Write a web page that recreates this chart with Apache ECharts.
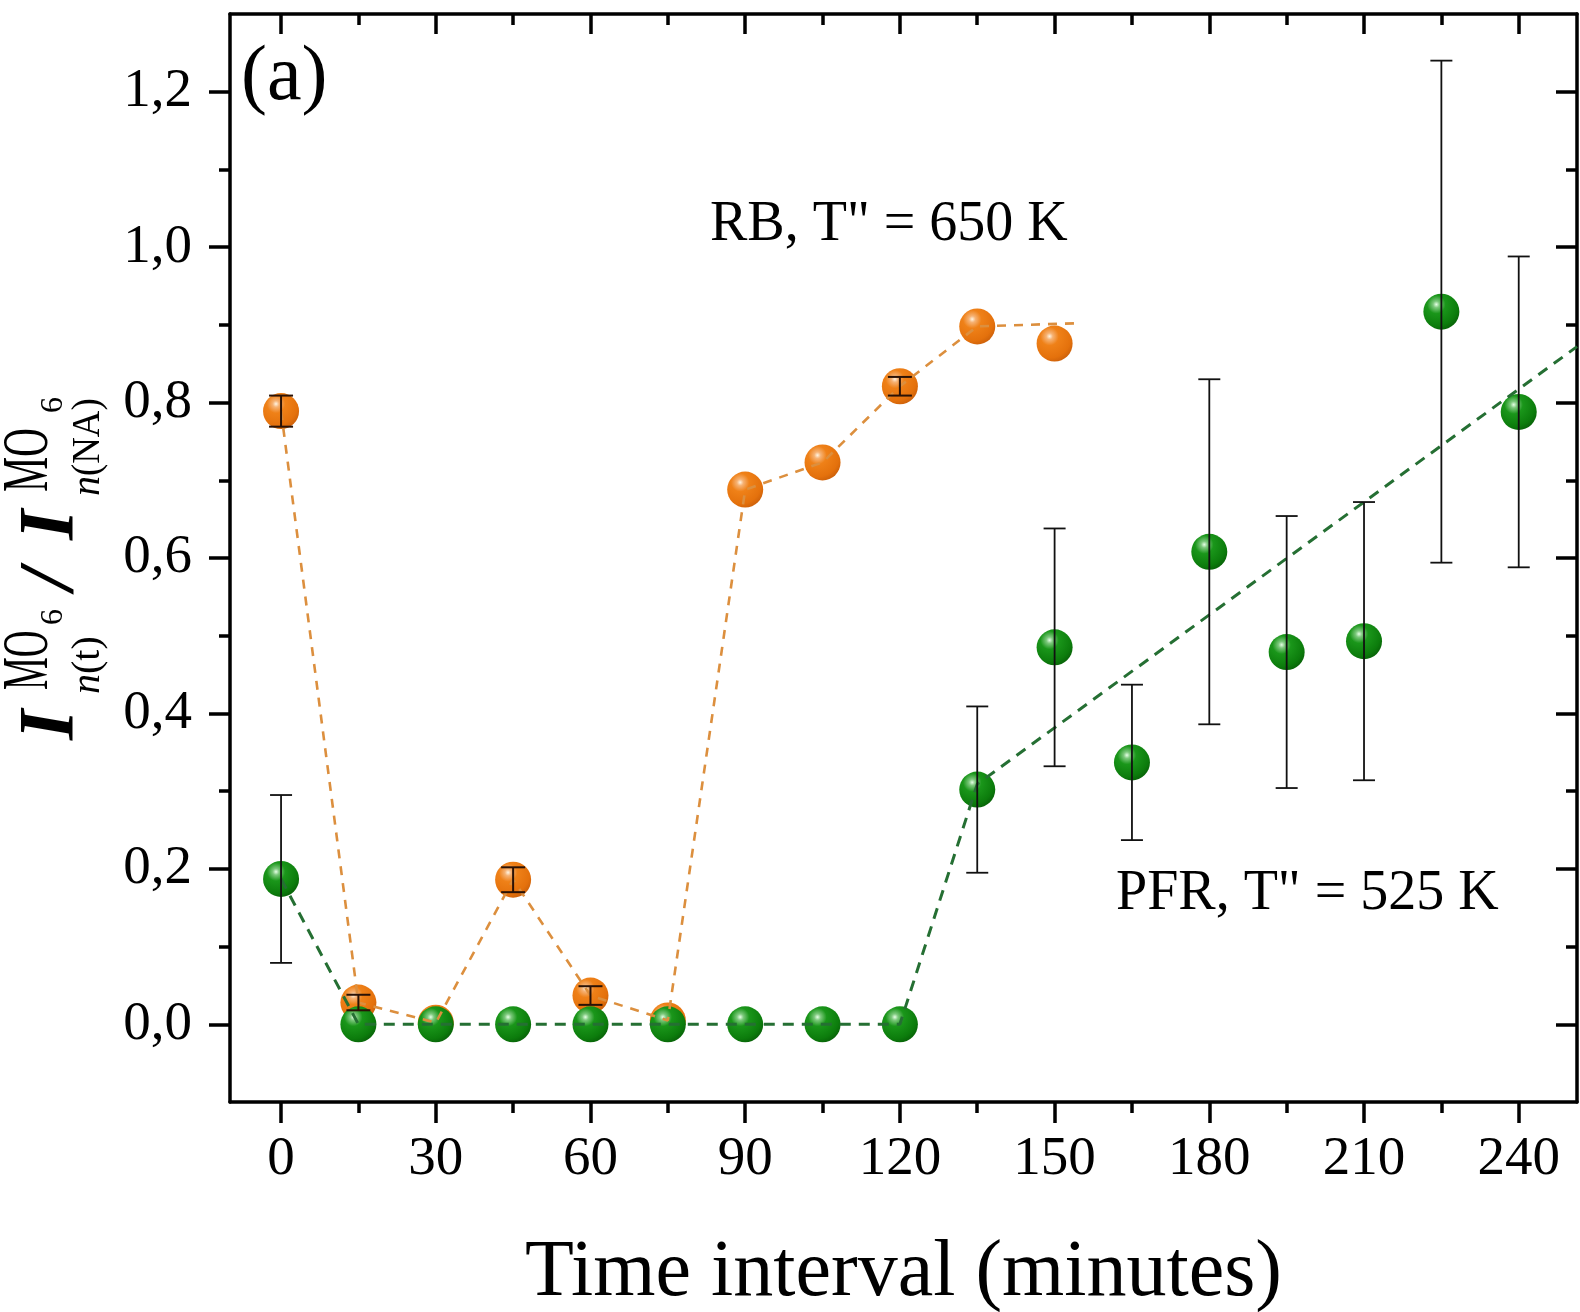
<!DOCTYPE html>
<html>
<head>
<meta charset="utf-8">
<script src="https://cdn.jsdelivr.net/npm/echarts@6/dist/echarts.min.js"></script>
<style>
html,body{margin:0;padding:0;background:#fff;}
#chart{width:1580px;height:1312px;}
</style>
</head>
<body>
<div id="chart"></div>
<script>
// ---- data ----
const timeRB = [0, 15, 30, 45, 60, 75, 90, 105, 120, 135, 150];
const rbValues = [0.789, 0.028, 0.002, 0.186, 0.037, 0.005, 0.688, 0.723, 0.821, 0.898, 0.876];
const rbErrors = [0.02, 0.01, 0, 0.016, 0.012, 0, 0, 0, 0.012, 0, 0];
const rbPlateau = [[135, 0.902], [154, 0.902]];

const timePFR = [0, 15, 30, 45, 60, 75, 90, 105, 120, 135, 150, 165, 180, 195, 210, 225, 240];
const pfrValues = [0.187, 0, 0, 0, 0, 0, 0, 0, 0, 0.302, 0.485, 0.337, 0.608, 0.479, 0.493, 0.917, 0.788];
const pfrErrors = [0.108, 0, 0, 0, 0, 0, 0, 0, 0, 0.107, 0.153, 0.100, 0.222, 0.175, 0.179, 0.323, 0.200];
const pfrFit = [[135, 0.309], [251.3, 0.872]];

const xMajorTicks = [0, 30, 60, 90, 120, 150, 180, 210, 240];
const xMinorTicks = [15, 45, 75, 105, 135, 165, 195, 225];
const yMajorTicks = [0, 0.2, 0.4, 0.6, 0.8, 1.0, 1.2];
const yMinorTicks = [0.1, 0.3, 0.5, 0.7, 0.9, 1.1];

const xTitle = 'Time interval (minutes)';
const rbLabel = 'RB, T" = 650 K';
const pfrLabel = 'PFR, T" = 525 K';
const panelLabel = '(a)';

// ---- chart ----
const FONT = '"Liberation Serif", "Times New Roman", serif';
const X_MIN = -9.9, X_MAX = 251.3, Y_MIN = -0.1, Y_MAX = 1.3;

function sphere(stops) {
  return {
    type: 'radial', x: 0.36, y: 0.3, r: 0.75,
    colorStops: stops.map(s => ({ offset: s[0], color: s[1] }))
  };
}
const greenFill = sphere([[0, '#e6ffe6'], [0.12, '#7cc87c'], [0.34, '#1a961a'], [0.8, '#0c7c0c'], [1, '#086208']]);
const orangeFill = sphere([[0, '#fff4e2'], [0.12, '#f6b274'], [0.34, '#ef8118'], [0.8, '#e4710c'], [1, '#cc600a']]);

function errorRender(capHalf, color, width) {
  return function (params, api) {
    const x = api.value(0), y = api.value(1), e = api.value(2);
    if (!(e > 0)) return null;
    const top = api.coord([x, y + e]);
    const bot = api.coord([x, y - e]);
    const st = { stroke: color, lineWidth: width };
    return {
      type: 'group',
      children: [
        { type: 'line', shape: { x1: top[0], y1: top[1], x2: bot[0], y2: bot[1] }, style: st },
        { type: 'line', shape: { x1: top[0] - capHalf, y1: top[1], x2: top[0] + capHalf, y2: top[1] }, style: st },
        { type: 'line', shape: { x1: bot[0] - capHalf, y1: bot[1], x2: bot[0] + capHalf, y2: bot[1] }, style: st }
      ]
    };
  };
}

const axisLineStyle = { color: '#000', width: 3.5 };
function xAx(pos, ticks, len, inside, showLine, labels) {
  return {
    type: 'value', position: pos, min: X_MIN, max: X_MAX,
    axisLine: { show: showLine, onZero: false, lineStyle: axisLineStyle },
    splitLine: { show: false },
    axisTick: { show: true, inside: inside, customValues: ticks, length: len, lineStyle: { color: '#000', width: 3.5 } },
    axisLabel: labels ? {
      show: true, customValues: ticks, margin: 30, fontFamily: FONT, fontSize: 55, color: '#000',
      formatter: v => String(v)
    } : { show: false }
  };
}
function yAx(pos, ticks, len, inside, showLine, labels) {
  return {
    type: 'value', position: pos, min: Y_MIN, max: Y_MAX,
    axisLine: { show: showLine, onZero: false, lineStyle: axisLineStyle },
    splitLine: { show: false },
    axisTick: { show: true, inside: inside, customValues: ticks, length: len, lineStyle: { color: '#000', width: 3.5 } },
    axisLabel: labels ? {
      show: true, customValues: ticks, margin: 38, fontFamily: FONT, fontSize: 55, color: '#000',
      formatter: v => v.toFixed(1).replace('.', ',')
    } : { show: false }
  };
}

const xMain = xAx('bottom', xMajorTicks, 21, false, true, true);
xMain.name = xTitle;
xMain.nameLocation = 'middle';
xMain.nameGap = 132;
xMain.nameTextStyle = { fontFamily: FONT, fontSize: 80, color: '#000' };

// y-axis title built from positioned text pieces (stacked super/subscripts)
function t(text, x, baseline, size, extra) {
  const o = extra || {};
  const fontStyle = (o.italic ? 'italic ' : '') + (o.bold ? 'bold ' : '');
  return {
    type: 'text', x: x, y: baseline - 0.34 * size,
    scaleX: o.sx || 1, scaleY: 1,
    style: {
      text: text, font: fontStyle + size + 'px ' + FONT, fill: '#000',
      textAlign: 'left', textVerticalAlign: 'middle', align: 'left', verticalAlign: 'middle'
    }
  };
}
const yTitle = {
  type: 'group', x: 78, y: 740, rotation: Math.PI / 2,
  children: [
    t('I', 0, 0, 78, { italic: true, bold: true }),
    t('n', 46, 24, 40, { italic: true }),
    t('(t)', 66, 24, 40),
    t('MO', 50, -26, 66, { sx: 0.56 }),
    t('6', 115, -14, 32),
    t('/', 150, 0, 78, { italic: true, bold: true }),
    t('I', 200, 0, 78, { italic: true, bold: true }),
    t('n', 244, 24, 40, { italic: true }),
    t('(NA)', 264, 24, 40, { sx: 0.92 }),
    t('MO', 248, -26, 66, { sx: 0.6 }),
    t('6', 327, -14, 32)
  ]
};

function label(text, left, baseline, size) {
  return {
    type: 'text', x: left, y: baseline - 0.34 * size,
    style: {
      text: text, font: size + 'px ' + FONT, fill: '#000',
      textAlign: 'left', textVerticalAlign: 'middle', align: 'left', verticalAlign: 'middle'
    }
  };
}

const option = {
  animation: false,
  backgroundColor: '#ffffff',
  grid: { left: 230, right: 3, top: 14, bottom: 210, containLabel: false, outerBoundsMode: 'none' },
  xAxis: [
    xMain,
    xAx('bottom', xMinorTicks, 11, false, false, false),
    xAx('top', xMajorTicks, 20, true, true, false),
    xAx('top', xMinorTicks, 11, true, false, false)
  ],
  yAxis: [
    yAx('left', yMajorTicks, 21, false, true, true),
    yAx('left', yMinorTicks, 11, false, false, false),
    yAx('right', yMajorTicks, 21, true, true, false),
    yAx('right', yMinorTicks, 11, true, false, false)
  ],
  graphic: [
    yTitle,
    label(panelLabel, 241, 105, 78),
    label(rbLabel, 710, 244, 56),
    label(pfrLabel, 1116, 913, 56)
  ],
  series: [
    {
      name: 'RB markers', type: 'scatter', z: 2,
      data: timeRB.map((x, i) => [x, rbValues[i]]),
      symbol: 'circle', symbolSize: 36,
      itemStyle: { color: orangeFill, opacity: 1 }
    },
    {
      name: 'PFR markers', type: 'scatter', z: 3,
      data: timePFR.map((x, i) => [x, pfrValues[i]]),
      symbol: 'circle', symbolSize: 36,
      itemStyle: { color: greenFill, opacity: 1 }
    },
    {
      name: 'RB line', type: 'line', z: 4, showSymbol: false, symbol: 'none',
      data: timeRB.slice(0, 10).map((x, i) => [x, rbValues[i]]).concat([rbPlateau[1]]),
      lineStyle: { color: '#dc8f3e', width: 2.6, type: [9, 8] }
    },
    {
      name: 'PFR line', type: 'line', z: 4, showSymbol: false, symbol: 'none',
      data: timePFR.slice(0, 9).map((x, i) => [x, pfrValues[i]]).concat(pfrFit),
      lineStyle: { color: '#256f33', width: 3, type: [11, 8] }
    },
    {
      name: 'RB errors', type: 'custom', z: 5,
      data: timeRB.map((x, i) => [x, rbValues[i], rbErrors[i]]),
      encode: { x: 0, y: 1 },
      renderItem: errorRender(12, '#2a1206', 2)
    },
    {
      name: 'PFR errors', type: 'custom', z: 5,
      data: timePFR.map((x, i) => [x, pfrValues[i], pfrErrors[i]]),
      encode: { x: 0, y: 1 },
      renderItem: errorRender(11, '#111', 1.8)
    }
  ]
};

const chart = echarts.init(document.getElementById('chart'), null, { renderer: 'canvas' });
chart.setOption(option);
</script>
</body>
</html>
